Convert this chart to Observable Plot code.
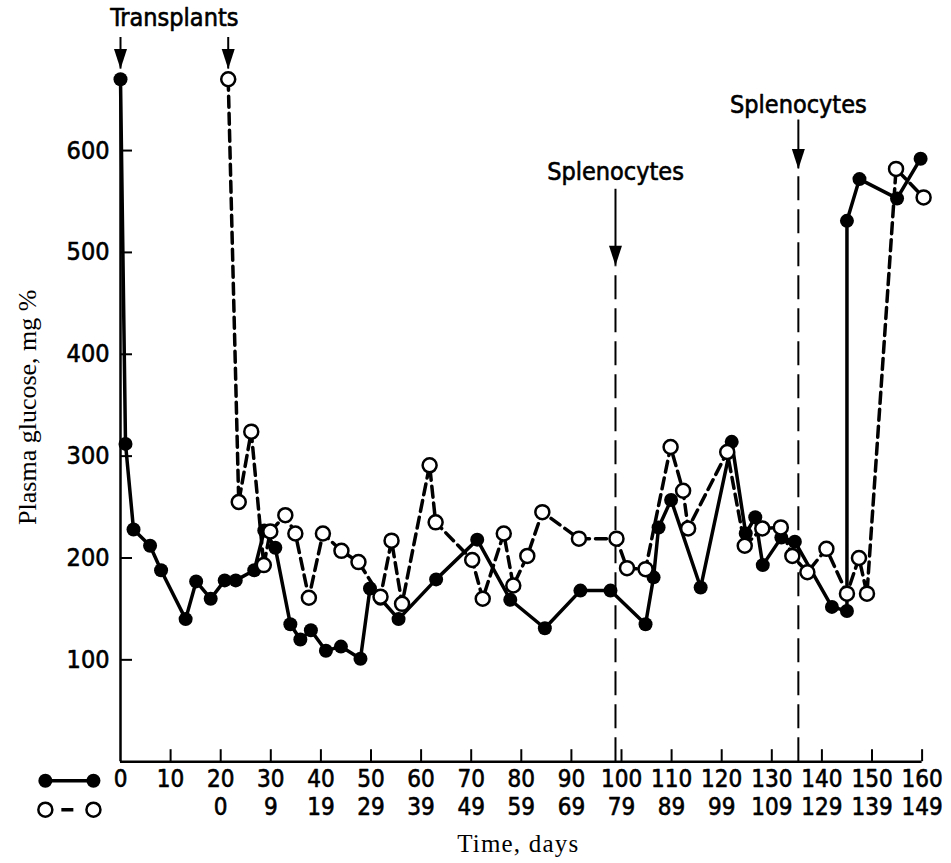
<!DOCTYPE html>
<html><head><meta charset="utf-8">
<script src="https://cdn.jsdelivr.net/npm/d3@7"></script>
<script src="https://cdn.jsdelivr.net/npm/@observablehq/plot@0.6"></script>
<style>
html,body{margin:0;padding:0;background:#fff;}
#chart svg{display:block;}
</style></head><body><div id="chart"></div>
<script>
// Filled circles, solid line (day axis: top row)
const solidDay = [0, 1, 2.6, 5.9, 8.1, 13, 15.1, 18, 20.8, 23, 26.7, 28.7, 30.9, 33.9, 35.9, 38, 41, 44, 47.9, 49.8, 51.9, 55.5, 63, 71.2, 77.8, 84.7, 91.8, 97.8, 104.8, 106.4, 107.4, 109.9, 115.8, 122, 124.8, 126.7, 128.2, 131.9, 134.6, 142, 145, 145, 147.5, 155, 159.7];
const solidGlucose = [670, 312, 228, 212, 188, 140, 177, 160, 178, 178, 188, 227, 210, 135, 120, 129, 109, 113, 101, 170, 160, 140, 179, 218, 159, 131, 168, 168, 135, 181, 230, 257, 171, 314, 224, 240, 193, 220, 216, 152, 148, 531, 572, 553, 592];
// Open circles, dashed line (plotted on the same day axis)
const openDay = [21.5, 23.6, 26.1, 28.6, 29.9, 32.9, 34.9, 37.6, 40.4, 44.1, 47.5, 51.9, 54.1, 56.2, 61.7, 62.9, 70.2, 72.3, 76.5, 78.4, 81.2, 84.2, 91.5, 99, 101.1, 104.8, 109.8, 112.3, 113.3, 121.1, 124.6, 128.1, 131.8, 134.1, 137.1, 140.9, 145, 147.4, 149, 154.8, 160.3];
const openGlucose = [670, 255, 324, 193, 226, 242, 224, 161, 224, 207, 196, 162, 217, 155, 291, 235, 198, 160, 224, 173, 202, 245, 219, 219, 190, 189, 309, 266, 229, 304, 212, 229, 230, 202, 186, 209, 165, 200, 165, 582, 554];

const xTicks = [0, 10, 20, 30, 40, 50, 60, 70, 80, 90, 100, 110, 120, 130, 140, 150, 160];
const xLabels = ["0","10","20","30","40","50","60","70","80","90","100","110","120","130","140","150","160"];
const xLabels2 = ["","","0","9","19","29","39","49","59","69","79","89","99","109","129","139","149"];
const yTicks = [100, 200, 300, 400, 500, 600];
const yLabels = ["100","200","300","400","500","600"];

// annotations
const transplantDay = [0, 21.5];
const transplantTip = [680, 680];
const transplantTop = [711, 711];
const transplantLabel = ["Transplants"];
const transplantLabelDay = [10.75];
const transplantLabelLevel = [730];
const splenoDay = [98.8, 135.3];
const splenoTip = [487, 582];
const splenoShaftTop = [562, 630];
const splenoLabelLevel = [579, 645];
const splenoLabel = ["Splenocytes", "Splenocytes"];
const legendX = [-15, -5.4];

const solid = solidDay.map((d, i) => ({day: d, glucose: solidGlucose[i]}));
const open = openDay.map((d, i) => ({day: d, glucose: openGlucose[i]}));

const W = 951, H = 863, mL = 120, mR = 29.4, mT = 48.2, mB = 101.8;
const frameW = W - mL - mR, frameH = H - mT - mB;
const sans = '"DejaVu Sans Condensed","DejaVu Sans",sans-serif';
const serif = '"Liberation Serif","DejaVu Serif",serif';
const bold = {fill: "black", stroke: "black", strokeWidth: 0.6};
const arrowHead = {draw(ctx) { ctx.moveTo(0, 0); ctx.lineTo(-6.5, -20); ctx.lineTo(6.5, -20); ctx.closePath(); }};

const chart = Plot.plot({
  width: W, height: H,
  marginLeft: mL, marginRight: mR, marginTop: mT, marginBottom: mB,
  x: {domain: [0, 160], axis: null},
  y: {domain: [0, 700], axis: null},
  style: {fontFamily: sans, fontSize: "24px", color: "#000", background: "#fff", fontStretch: "condensed"},
  marks: [
    // axes
    Plot.ruleY([0], {x1: 0, x2: 160, strokeWidth: 2.5}),
    Plot.ruleX([0], {y1: 0, y2: solidGlucose[0], strokeWidth: 2.5}),
    Plot.tickX(xTicks.slice(1), {x: d => d, insetTop: frameH - 12, strokeWidth: 2}),
    Plot.tickY(yTicks, {y: d => d, insetRight: frameW - 12, strokeWidth: 2}),
    Plot.text(xTicks, {x: d => d, frameAnchor: "bottom", dy: 25, text: (d, i) => xLabels[i], ...bold}),
    Plot.text(xTicks, {x: d => d, frameAnchor: "bottom", dy: 53, text: (d, i) => xLabels2[i], ...bold}),
    Plot.text(yTicks, {y: d => d, frameAnchor: "left", dx: -11, textAnchor: "end", text: (d, i) => yLabels[i], fontSize: 25, ...bold}),
    Plot.text(["Time, days"], {frameAnchor: "bottom", dy: 90, dx: -3, textAnchor: "middle", fontFamily: serif, fontSize: 25, fontStretch: "normal"}),
    Plot.text(["Plasma glucose, mg %"], {frameAnchor: "left", textAnchor: "middle", dx: -93, dy: 2, rotate: -90, fontFamily: serif, fontSize: 26, fontStretch: "normal"}),
    // legend
    Plot.link([0], {x1: legendX[0], x2: legendX[1], y1: 0, y2: 0, dy: 19, strokeWidth: 3.5}),
    Plot.dot(legendX, {x: d => d, y: 0, dy: 19, r: 7, fill: "black"}),
    Plot.link([0], {x1: legendX[0], x2: legendX[1], y1: 0, y2: 0, dy: 48, strokeWidth: 3.5, strokeDasharray: "0,16,12,100"}),
    Plot.dot(legendX, {x: d => d, y: 0, dy: 48, r: 7, fill: "white", stroke: "black", strokeWidth: 2.5}),
    // annotations
    Plot.ruleX(splenoDay, {x: d => d, y1: 0, y2: (d, i) => splenoTip[i], strokeWidth: 2, strokeDasharray: "24,9"}),
    Plot.ruleX(splenoDay, {x: d => d, y1: (d, i) => splenoTip[i], y2: (d, i) => splenoShaftTop[i], strokeWidth: 2}),
    Plot.dot(splenoDay, {x: d => d, y: (d, i) => splenoTip[i], symbol: arrowHead, fill: "black", stroke: "none"}),
    Plot.text(splenoDay, {x: d => d, y: (d, i) => splenoLabelLevel[i], text: (d, i) => splenoLabel[i], fontSize: 25, ...bold}),
    Plot.ruleX(transplantDay, {x: d => d, y1: (d, i) => transplantTip[i], y2: (d, i) => transplantTop[i], strokeWidth: 2}),
    Plot.dot(transplantDay, {x: d => d, y: (d, i) => transplantTip[i], symbol: arrowHead, fill: "black", stroke: "none"}),
    Plot.text(transplantLabelDay, {x: d => d, y: (d, i) => transplantLabelLevel[i], text: (d, i) => transplantLabel[i], fontSize: 25, ...bold}),
    // data
    Plot.line(open, {x: "day", y: "glucose", strokeWidth: 3.5, strokeDasharray: "11,6"}),
    Plot.line(solid, {x: "day", y: "glucose", strokeWidth: 3.5}),
    Plot.dot(solid, {x: "day", y: "glucose", r: 7, fill: "black", stroke: "none"}),
    Plot.dot(open, {x: "day", y: "glucose", r: 7, fill: "white", stroke: "black", strokeWidth: 2.5})
  ]
});
d3.select(chart).selectAll("text").filter(function() { return this.textContent === "Time, days"; }).attr("letter-spacing", "1.2px");
document.getElementById("chart").append(chart);
</script></body></html>
